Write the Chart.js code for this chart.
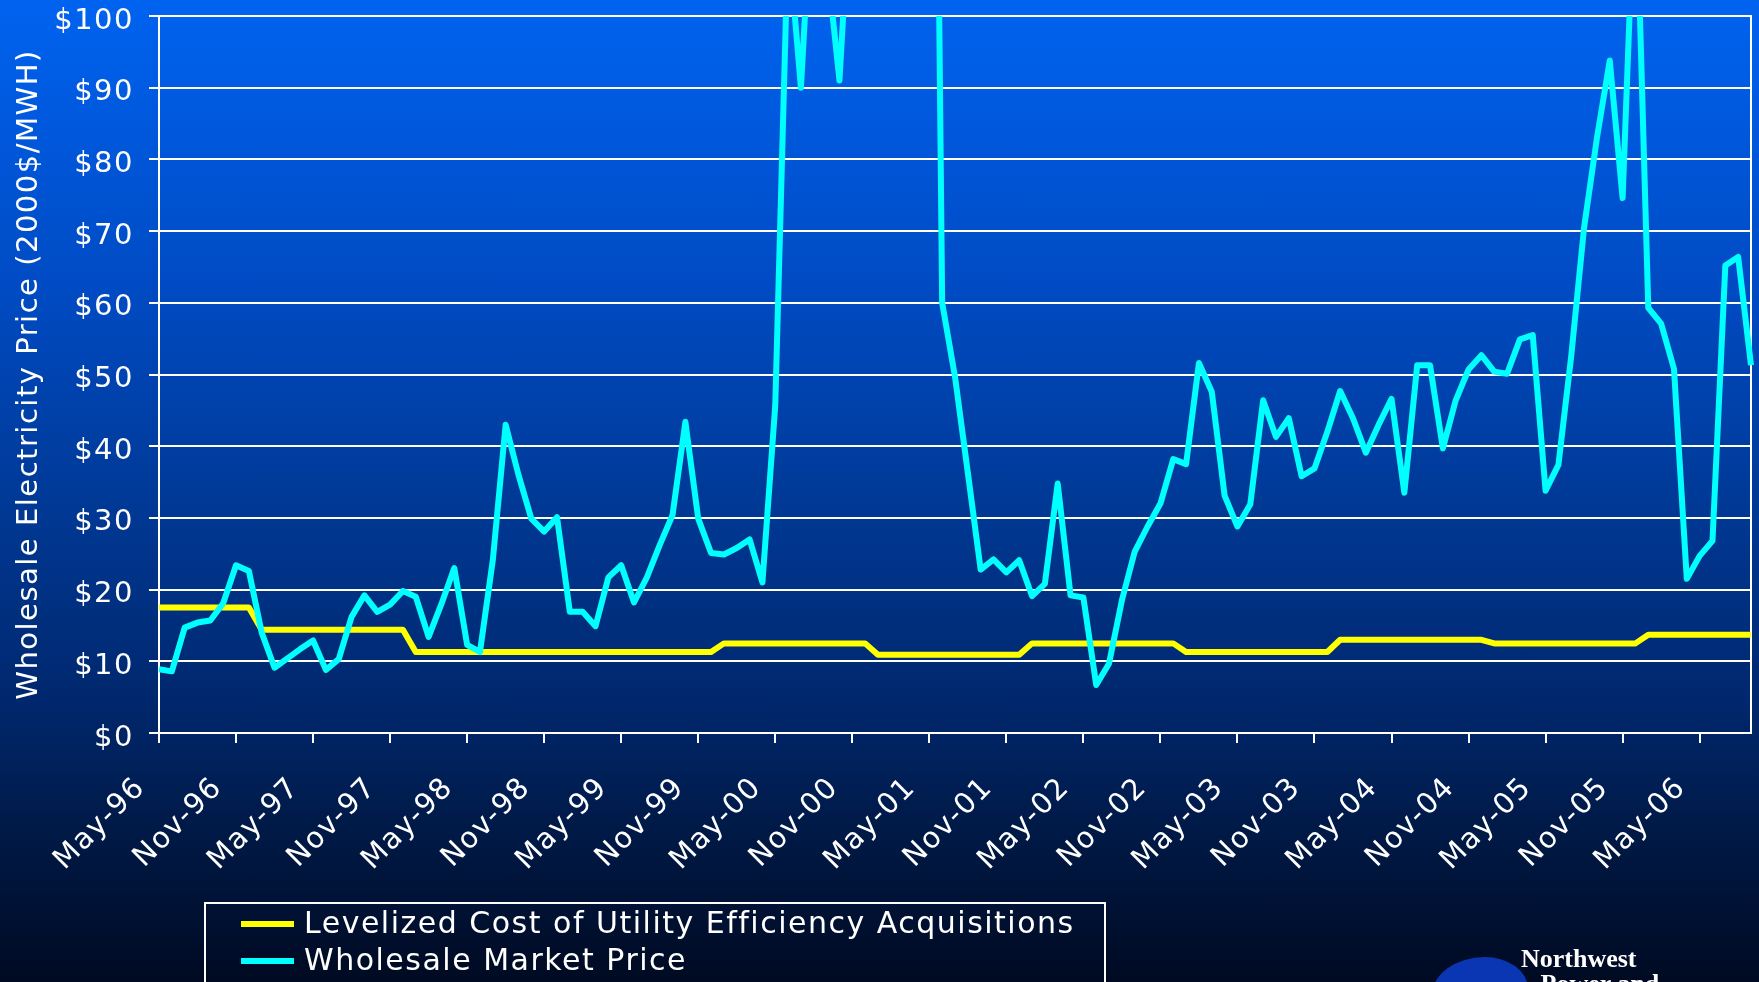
<!DOCTYPE html>
<html>
<head>
<meta charset="utf-8">
<title>Wholesale Market Price vs Levelized Cost of Efficiency</title>
<script src="https://cdn.jsdelivr.net/npm/chart.js@4.4.1/dist/chart.umd.min.js"></script>
<style>
  html, body {
    margin: 0;
    padding: 0;
    width: 1759px;
    height: 982px;
    overflow: hidden;
    background: linear-gradient(to bottom, #0063f0 0%, #004ac2 30%, #003a98 50%, #00276c 72%, #001a48 84%, #000a22 100%);
  }
  #priceChart { position: absolute; left: 0; top: 0; }
  #logoMark {
    position: absolute; left: 1432px; top: 957px; width: 96px; height: 70px;
    background: #0a36b4; border-radius: 55% 45% 0 0;
  }
  #logoText {
    position: absolute; left: 1521px; top: 946px;
    font: bold 26px "Liberation Serif", serif; line-height: 25px; color: #fff;
  }
</style>
</head>
<body>
<canvas id="priceChart" width="1759" height="982"></canvas>
<div id="logoMark"></div>
<div id="logoText">Northwest<br>&nbsp;&nbsp;&nbsp;Power and</div>
<script>
// months May-96 .. Sep-06
var monthNames = ['Jan','Feb','Mar','Apr','May','Jun','Jul','Aug','Sep','Oct','Nov','Dec'];
var months = [];
for (var m = 4; m < 4 + 125; m++) {
  var yr = (96 + Math.floor(m / 12)) % 100;
  months.push(monthNames[m % 12] + '-' + (yr < 10 ? '0' + yr : yr));
}

var tickLabels = ['May-96','Nov-96','May-97','Nov-97','May-98','Nov-98','May-99','Nov-99',
  'May-00','Nov-00','May-01','Nov-01','May-02','Nov-02','May-03','Nov-03',
  'May-04','Nov-04','May-05','Nov-05','May-06'];

var yTicks = [0, 10, 20, 30, 40, 50, 60, 70, 80, 90, 100];

// levelized cost of utility efficiency acquisitions (2000$/MWh)
var efficiencyCost = [
  17.5, 17.5, 17.5, 17.5, 17.5, 17.5, 17.5, 17.5,
  14.4, 14.4, 14.4, 14.4, 14.4, 14.4, 14.4, 14.4, 14.4, 14.4, 14.4, 14.4,
  11.3, 11.3, 11.3, 11.3, 11.3, 11.3, 11.3, 11.3, 11.3, 11.3, 11.3, 11.3,
  11.3, 11.3, 11.3, 11.3, 11.3, 11.3, 11.3, 11.3, 11.3, 11.3, 11.3, 11.3,
  12.5, 12.5, 12.5, 12.5, 12.5, 12.5, 12.5, 12.5, 12.5, 12.5, 12.5, 12.5,
  10.9, 10.9, 10.9, 10.9, 10.9, 10.9, 10.9, 10.9, 10.9, 10.9, 10.9, 10.9,
  12.5, 12.5, 12.5, 12.5, 12.5, 12.5, 12.5, 12.5, 12.5, 12.5, 12.5, 12.5,
  11.3, 11.3, 11.3, 11.3, 11.3, 11.3, 11.3, 11.3, 11.3, 11.3, 11.3, 11.3,
  13.0, 13.0, 13.0, 13.0, 13.0, 13.0, 13.0, 13.0, 13.0, 13.0, 13.0, 13.0,
  12.5, 12.5, 12.5, 12.5, 12.5, 12.5, 12.5, 12.5, 12.5, 12.5, 12.5, 12.5,
  13.7, 13.7, 13.7, 13.7, 13.7, 13.7, 13.7, 13.7, 13.7
];

// wholesale market price (2000$/MWh), values over $100 run off the top
var marketPrice = [
  8.9, 8.6, 14.7, 15.4, 15.7, 18.1, 23.4, 22.6,
  14.0, 9.1, 10.4, 11.7, 12.9, 8.8, 10.3, 16.2, 19.2, 16.9, 17.9, 19.8,
  19.0, 13.4, 18.0, 23.0, 12.3, 11.3, 24.1, 43.0, 36.0, 29.9, 28.1, 30.1,
  16.9, 16.9, 14.9, 21.7, 23.4, 18.2, 21.7, 26.2, 30.4, 43.4, 29.9, 25.1,
  24.9, 25.8, 27.0, 21.0, 45.7, 111, 90, 122, 108, 91, 122, 180,
  290, 250, 270, 260, 235, 60.0, 49.7, 36.3, 22.8, 24.2, 22.4, 24.1,
  19.1, 20.8, 34.8, 19.2, 18.9, 6.7, 9.7, 18.5, 25.3, 28.8, 32.0, 38.2,
  37.5, 51.6, 47.6, 33.1, 28.8, 31.9, 46.4, 41.3, 43.9, 35.8, 36.9, 42.0,
  47.7, 43.9, 39.1, 43.0, 46.6, 33.5, 51.3, 51.3, 39.7, 46.4, 50.7, 52.7,
  50.4, 50.1, 54.9, 55.5, 33.8, 37.4, 52.6, 70.5, 83.0, 93.8, 74.6, 122,
  59.3, 57.1, 50.8, 21.5, 24.7, 26.8, 65.2, 66.4, 51.3
];

var fontFamily = '"DejaVu Sans", Verdana, sans-serif';

// canvas letter spacing, like the slide text
var spacing = {
  id: 'spacing',
  beforeLayout: function (chart) { chart.ctx.letterSpacing = '1.5px'; },
  beforeDraw: function (chart) { chart.ctx.letterSpacing = '1.5px'; }
};

// right edge of the plot box
var plotFrame = {
  id: 'plotFrame',
  beforeDatasetsDraw: function (chart) {
    var a = chart.chartArea, ctx = chart.ctx;
    ctx.save();
    ctx.strokeStyle = '#ffffff';
    ctx.lineWidth = 2;
    ctx.beginPath();
    ctx.moveTo(a.right, a.top - 1);
    ctx.lineTo(a.right, a.bottom);
    ctx.stroke();
    ctx.restore();
  }
};

// boxed legend, one entry per row
var boxLegend = {
  id: 'boxLegend',
  afterDraw: function (chart) {
    var ctx = chart.ctx;
    ctx.save();
    ctx.letterSpacing = '1.5px';
    ctx.strokeStyle = '#ffffff';
    ctx.lineWidth = 2;
    ctx.strokeRect(205, 903, 900, 120);
    ctx.font = '30px ' + fontFamily;
    ctx.textBaseline = 'middle';
    chart.data.datasets.forEach(function (ds, i) {
      var y = 924 + i * 37;
      ctx.strokeStyle = ds.borderColor;
      ctx.lineWidth = 6;
      ctx.beginPath();
      ctx.moveTo(241, y);
      ctx.lineTo(294, y);
      ctx.stroke();
      ctx.fillStyle = '#ffffff';
      ctx.fillText(ds.label, 304, y + 1);
    });
    ctx.restore();
  }
};

var priceChart = new Chart(document.getElementById('priceChart'), {
  type: 'line',
  data: {
    labels: months,
    datasets: [{
      label: 'Levelized Cost of Utility Efficiency Acquisitions',
      data: efficiencyCost,
      borderColor: '#ffff00',
      borderWidth: 6,
      pointRadius: 0,
      borderJoinStyle: 'round',
      order: 2
    }, {
      label: 'Wholesale Market Price',
      data: marketPrice,
      borderColor: '#00ffff',
      borderWidth: 6,
      pointRadius: 0,
      borderJoinStyle: 'round',
      order: 1
    }]
  },
  options: {
    responsive: false,
    animation: false,
    layout: { padding: { top: 16, right: 8, left: 0, bottom: 0 } },
    plugins: {
      legend: { display: false },
      tooltip: { enabled: false }
    },
    scales: {
      x: {
        offset: false,
        border: { color: '#ffffff', width: 2 },
        grid: {
          drawOnChartArea: false,
          tickLength: 10,
          lineWidth: 2,
          tickWidth: 2,
          tickColor: function (c) {
            return tickLabels.indexOf(months[c.index]) >= 0 ? '#ffffff' : 'rgba(0,0,0,0)';
          }
        },
        ticks: {
          autoSkip: false,
          minRotation: 45,
          maxRotation: 45,
          padding: 28,
          labelOffset: -18,
          color: '#ffffff',
          font: { family: fontFamily, size: 29 },
          callback: function (value) {
            var lab = this.getLabelForValue(value);
            return tickLabels.indexOf(lab) >= 0 ? lab : '';
          }
        },
        afterFit: function (s) {
          s.height = 249;
          s.paddingLeft = 0;
          s.paddingRight = 0;
        }
      },
      y: {
        min: 0,
        max: 100,
        border: { color: '#ffffff', width: 2 },
        grid: { color: '#ffffff', lineWidth: 2, tickLength: 10 },
        afterBuildTicks: function (s) {
          s.ticks = yTicks.map(function (v) { return { value: v }; });
        },
        ticks: {
          padding: 15,
          labelOffset: 5,
          color: '#ffffff',
          font: { family: fontFamily, size: 29 },
          callback: function (v) { return '$' + v; }
        },
        title: {
          display: true,
          text: 'Wholesale Electricity Price (2000$/MWH)',
          color: '#ffffff',
          font: { family: fontFamily, size: 29 },
          padding: { top: 12, bottom: 0 }
        },
        afterFit: function (s) {
          s.width = 159;
          s.paddingTop = 0;
          s.paddingBottom = 0;
        }
      }
    }
  },
  plugins: [spacing, plotFrame, boxLegend]
});
</script>
</body>
</html>
